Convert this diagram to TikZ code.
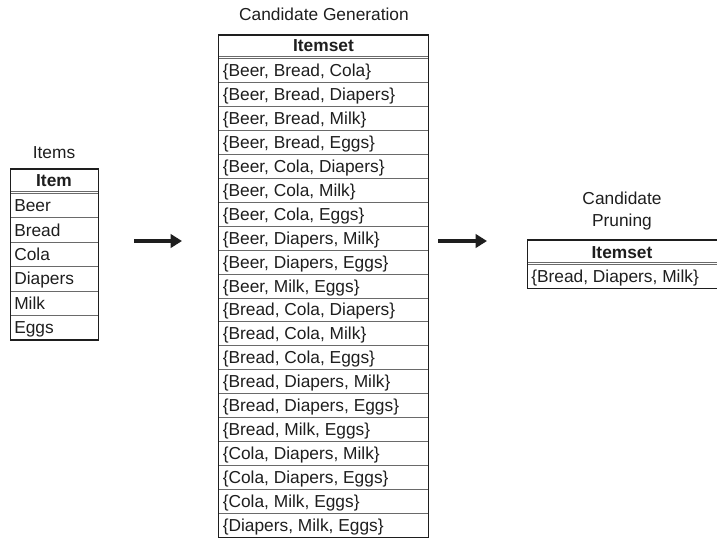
\documentclass[tikz,border=0pt]{standalone}
\usepackage{fontspec}
\setmainfont{Liberation Sans}
\usetikzlibrary{arrows.meta}
\definecolor{ink}{HTML}{1E1E1E}
\definecolor{rulegray}{HTML}{6A6A6A}
\begin{document}
\begin{tikzpicture}[x=0.75pt,y=-0.75pt,
  txt/.style={font=\fontsize{13}{15}\selectfont, text=ink, inner sep=0pt},
  cell/.style={txt, anchor=base west},
  headtxt/.style={txt, font=\fontsize{13}{15}\selectfont\bfseries, anchor=base},
  titletxt/.style={txt, anchor=base},
  outer/.style={draw=ink, line width=1.1pt},
  sepline/.style={draw=rulegray, line width=0.7pt},
  dblline/.style={draw=rulegray, line width=0.6pt},
  bigarrow/.style={draw=ink, line width=2.7pt, -{Triangle[length=8.5pt,width=10pt]}}]
\useasboundingbox (0,0) rectangle (717,540);

% ---------- Items table ----------
\node[titletxt] (itemsTitle) at (54,158) {Items};
\coordinate (iTL) at (10.5,169);
\coordinate (iBR) at (98.5,339.9);
\draw[dblline] (10.5,191) -- (98.5,191);
\draw[dblline] (10.5,193.5) -- (98.5,193.5);
\foreach \k in {1,...,5} \draw[sepline] (10.5,{193.5+24.4*\k}) -- (98.5,{193.5+24.4*\k});
\draw[outer] (iTL) rectangle (iBR);
\node[headtxt] (itemHead) at (54,186) {Item};
\foreach \t [count=\i] in {Beer,Bread,Cola,Diapers,Milk,Eggs}
  \node[cell] (item\i) at (14,{193.5+24.4*\i-12.2+6}) {\t};

% ---------- Candidate Generation table ----------
\node[titletxt] (genTitle) at (324,20) {Candidate Generation};
\coordinate (gTL) at (218.5,35);
\coordinate (gBR) at (428.5,537.5);
\draw[dblline] (218.5,56) -- (428.5,56);
\draw[dblline] (218.5,58.5) -- (428.5,58.5);
\foreach \k in {1,...,19} \draw[sepline] (218.5,{58.5+23.95*\k}) -- (428.5,{58.5+23.95*\k});
\draw[outer] (gTL) rectangle (gBR);
\node[headtxt] (genHead) at (323.5,51) {Itemset};
\foreach \t [count=\i] in {
  {\{Beer, Bread, Cola\}},
  {\{Beer, Bread, Diapers\}},
  {\{Beer, Bread, Milk\}},
  {\{Beer, Bread, Eggs\}},
  {\{Beer, Cola, Diapers\}},
  {\{Beer, Cola, Milk\}},
  {\{Beer, Cola, Eggs\}},
  {\{Beer, Diapers, Milk\}},
  {\{Beer, Diapers, Eggs\}},
  {\{Beer, Milk, Eggs\}},
  {\{Bread, Cola, Diapers\}},
  {\{Bread, Cola, Milk\}},
  {\{Bread, Cola, Eggs\}},
  {\{Bread, Diapers, Milk\}},
  {\{Bread, Diapers, Eggs\}},
  {\{Bread, Milk, Eggs\}},
  {\{Cola, Diapers, Milk\}},
  {\{Cola, Diapers, Eggs\}},
  {\{Cola, Milk, Eggs\}},
  {\{Diapers, Milk, Eggs\}}}
  \node[cell] (gen\i) at (222.5,{58.5+23.95*\i-11.975+6}) {\t};

% ---------- Candidate Pruning table ----------
\node[titletxt] (pruneTitleA) at (622,204) {Candidate};
\node[titletxt] (pruneTitleB) at (622,226) {Pruning};
\coordinate (pTL) at (527.5,240);
\coordinate (pBR) at (719,288.5);
\draw[dblline] (527.5,262) -- (719,262);
\draw[dblline] (527.5,264.5) -- (719,264.5);
\draw[outer] (pTL) rectangle (pBR);
\node[headtxt] (pruneHead) at (622,258) {Itemset};
\node[cell] (prune1) at (531,282.5) {\{Bread, Diapers, Milk\}};

% ---------- arrows ----------
\coordinate (arrowAs) at (134,241);
\coordinate (arrowAe) at (182,241);
\coordinate (arrowBs) at (438,241);
\coordinate (arrowBe) at (487,241);
\draw[bigarrow] (arrowAs) -- (arrowAe);
\draw[bigarrow] (arrowBs) -- (arrowBe);
\end{tikzpicture}
\end{document}
